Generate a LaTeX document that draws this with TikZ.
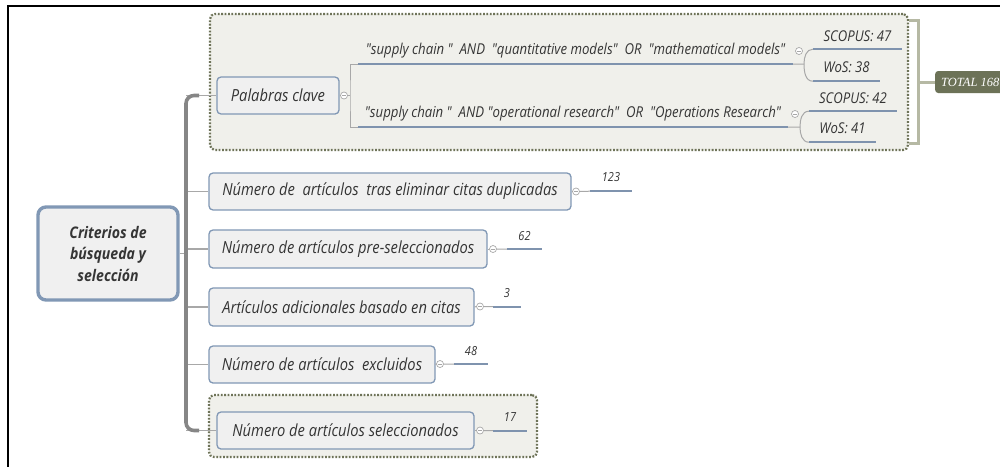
\documentclass[tikz,border=0pt]{standalone}
\usepackage{fontspec}
\newfontfamily\uifont[FakeStretch=0.88]{Open Sans}
\newfontfamily\tagfont{Liberation Serif}
\usetikzlibrary{calc}

\definecolor{nodefill}{HTML}{F0F0F0}
\definecolor{topicblue}{HTML}{8198B5}
\definecolor{groupfill}{HTML}{F0F0EB}
\definecolor{olive}{HTML}{6E7358}
\definecolor{trunkgray}{HTML}{868686}
\definecolor{branchgray}{HTML}{A8A8A8}
\definecolor{ulineblue}{HTML}{7F93AE}
\definecolor{bracketgray}{HTML}{B6B9A4}
\definecolor{tagfill}{HTML}{6C7257}
\definecolor{textgray}{HTML}{353535}

\tikzset{
  groupbox/.style={draw=olive, fill=groupfill, line width=2.2pt,
    dash pattern=on 1.8pt off 1.6pt, rounded corners=5pt, inner sep=0pt},
  rootbox/.style={draw=topicblue, fill=nodefill, line width=3.4pt,
    rounded corners=8pt, align=center, text=textgray, inner sep=0pt,
    font=\uifont\bfseries\itshape\fontsize{16}{21.5}\selectfont},
  topic/.style={draw=topicblue, fill=nodefill, line width=1.3pt,
    rounded corners=4pt, text=textgray, inner sep=0pt,
    font=\uifont\itshape\fontsize{16.7}{19}\selectfont},
  query/.style={inner sep=0pt, text=textgray,
    font=\uifont\itshape\fontsize{15}{17}\selectfont},
  leaf/.style={inner sep=0pt, text=textgray,
    font=\uifont\itshape\fontsize{14.9}{17}\selectfont},
  count/.style={inner sep=0pt, text=textgray,
    font=\uifont\itshape\fontsize{12.5}{14}\selectfont},
  uline/.style={draw=ulineblue, line width=2.4pt},
  trunkline/.style={draw=trunkgray, line width=3.6pt, rounded corners=8pt},
  branch/.style={draw=branchgray, line width=1.4pt},
  branchthin/.style={draw=branchgray, line width=1pt},
  bracket/.style={draw=bracketgray, line width=3pt},
  collapse/.style={circle, draw=branchgray, fill=white, line width=0.7pt,
    minimum size=7pt, inner sep=0pt,
    path picture={\draw[branchgray, line width=0.6pt]
      ([xshift=-2pt]path picture bounding box.center) --
      ([xshift=2pt]path picture bounding box.center);}},
  tagbox/.style={fill=tagfill, text=white, rounded corners=3pt,
    minimum height=22pt, inner xsep=6pt, inner ysep=0pt, anchor=west,
    font=\tagfont\itshape\fontsize{12.5}{15}\selectfont}
}

\begin{document}
\begin{tikzpicture}[x=1pt,y=-1pt]
\clip (0,0) rectangle (1000,466);
\fill[white] (0,0) rectangle (1000,466);

% screen frame
\draw[line width=2pt] (8,470) -- (8,6) -- (1004,6);

% highlighted groups
\node[groupbox, minimum width=698pt, minimum height=136pt] (kwgroup) at (559,82) {};
\node[groupbox, minimum width=328pt, minimum height=62pt] (selgroup) at (373,426) {};

% central topic
\node[rootbox, minimum width=140pt, minimum height=93pt] (root) at (108,253.5)
  {Criterios de\\búsqueda y\\selección};

% main topics
\node[topic, minimum width=122pt, minimum height=37pt] (kw) at (278,95.5) {Palabras clave};
\node[topic, minimum width=362pt, minimum height=37pt] (n1) at (390,191.5)
  {Número de\ \ artículos\ \ tras eliminar citas duplicadas};
\node[topic, minimum width=278pt, minimum height=38pt] (n2) at (348,249)
  {Número de artículos pre-seleccionados};
\node[topic, minimum width=265pt, minimum height=38pt] (n3) at (341.5,307)
  {Artículos adicionales basado en citas};
\node[topic, minimum width=226pt, minimum height=37pt] (n4) at (322,364.5)
  {Número de artículos\ \ excluidos};
\node[topic, minimum width=257pt, minimum height=37pt] (n5) at (345.5,430.5)
  {Número de artículos seleccionados};

% trunk from the central topic
\coordinate (tk) at (186,253.5);
\foreach \t in {kw,n1,n2,n3,n4,n5}{
  \draw[branch] (\t.west -| tk) -- (\t.west);
}
\draw[branch] (root.east) -- (tk);
\coordinate (ttop) at (199,95.5);
\coordinate (tbot) at (199,430.5);
\draw[trunkline] (ttop) -| (tk) |- (tbot);

% search queries
\node[query, minimum width=435pt, minimum height=26pt] (q1) at (575.5,51)
  {"supply chain "\ \ AND\ \ "quantitative models"\ \ OR\ \ "mathematical models"};
\node[query, minimum width=430pt, minimum height=26pt] (q2) at (573,114)
  {"supply chain "\ \ AND "operational research"\ \ OR\ \ "Operations Research"};
\draw[uline] (q1.south west) -- (q1.south east);
\draw[uline] (q2.south west) -- (q2.south east);

\node[collapse] (c0) at (344,95.5) {};
\coordinate (bx) at (350,95.5);
\draw[branchthin] (kw.east) -- (c0.west);
\draw[branchthin] (c0.east) -- (bx);
\draw[branchthin] (q1.south west) -| (bx) |- (q2.south west);

% results per database
\node[leaf, minimum width=89pt, minimum height=26pt] (s47) at (857.5,36) {SCOPUS: 47};
\node[leaf, minimum width=67pt, minimum height=28pt] (w38) at (846.5,67) {WoS: 38};
\node[leaf, minimum width=88pt, minimum height=26pt] (s42) at (853,98) {SCOPUS: 42};
\node[leaf, minimum width=67pt, minimum height=28pt] (w41) at (842.5,128) {WoS: 41};
\foreach \l in {s47,w38,s42,w41}{
  \draw[uline] (\l.south west) -- (\l.south east);
}

\node[collapse] (cq1) at (799,51) {};
\node[collapse] (cq2) at (795,114) {};
\coordinate (j1) at (804,64);
\coordinate (j2) at (800,127);
\draw[branchthin] (q1.south east) -- (j1);
\draw[branchthin] (s47.south west) to[out=180,in=90] (j1) to[out=-90,in=180] (w38.south west);
\draw[branchthin] (q2.south east) -- (j2);
\draw[branchthin] (s42.south west) to[out=180,in=90] (j2) to[out=-90,in=180] (w41.south west);

% summary bracket
\coordinate (brtop) at (909,20);
\coordinate (brbot) at (909,143);
\coordinate (brx) at (918,82);
\node[tagbox] (total) at (935,82) {TOTAL 168};
\draw[bracket] (brtop) -| (brx) |- (brbot);
\draw[bracket] (brx) -- (total.west);

% counts
\node[count, minimum width=42pt, minimum height=28pt] (v1) at (611,177) {123};
\node[count, minimum width=35pt, minimum height=26pt] (v2) at (524.5,236) {62};
\node[count, minimum width=28pt, minimum height=26pt] (v3) at (507,293.5) {3};
\node[count, minimum width=34pt, minimum height=26pt] (v4) at (471,351) {48};
\node[count, minimum width=34pt, minimum height=27pt] (v5) at (510,417) {17};

\node[collapse] (c1) at (576,191.5) {};
\node[collapse] (c2) at (493,249) {};
\node[collapse] (c3) at (480,306.5) {};
\node[collapse] (c4) at (440,364) {};
\node[collapse] (c5) at (480,430.5) {};

\foreach \n/\c/\v in {n1/c1/v1,n2/c2/v2,n3/c3/v3,n4/c4/v4,n5/c5/v5}{
  \draw[branchthin] (\n.east) -- (\c.west);
  \draw[branchthin] (\c.east) -- (\v.south west);
  \draw[uline] (\v.south west) -- (\v.south east);
}
\end{tikzpicture}
\end{document}
